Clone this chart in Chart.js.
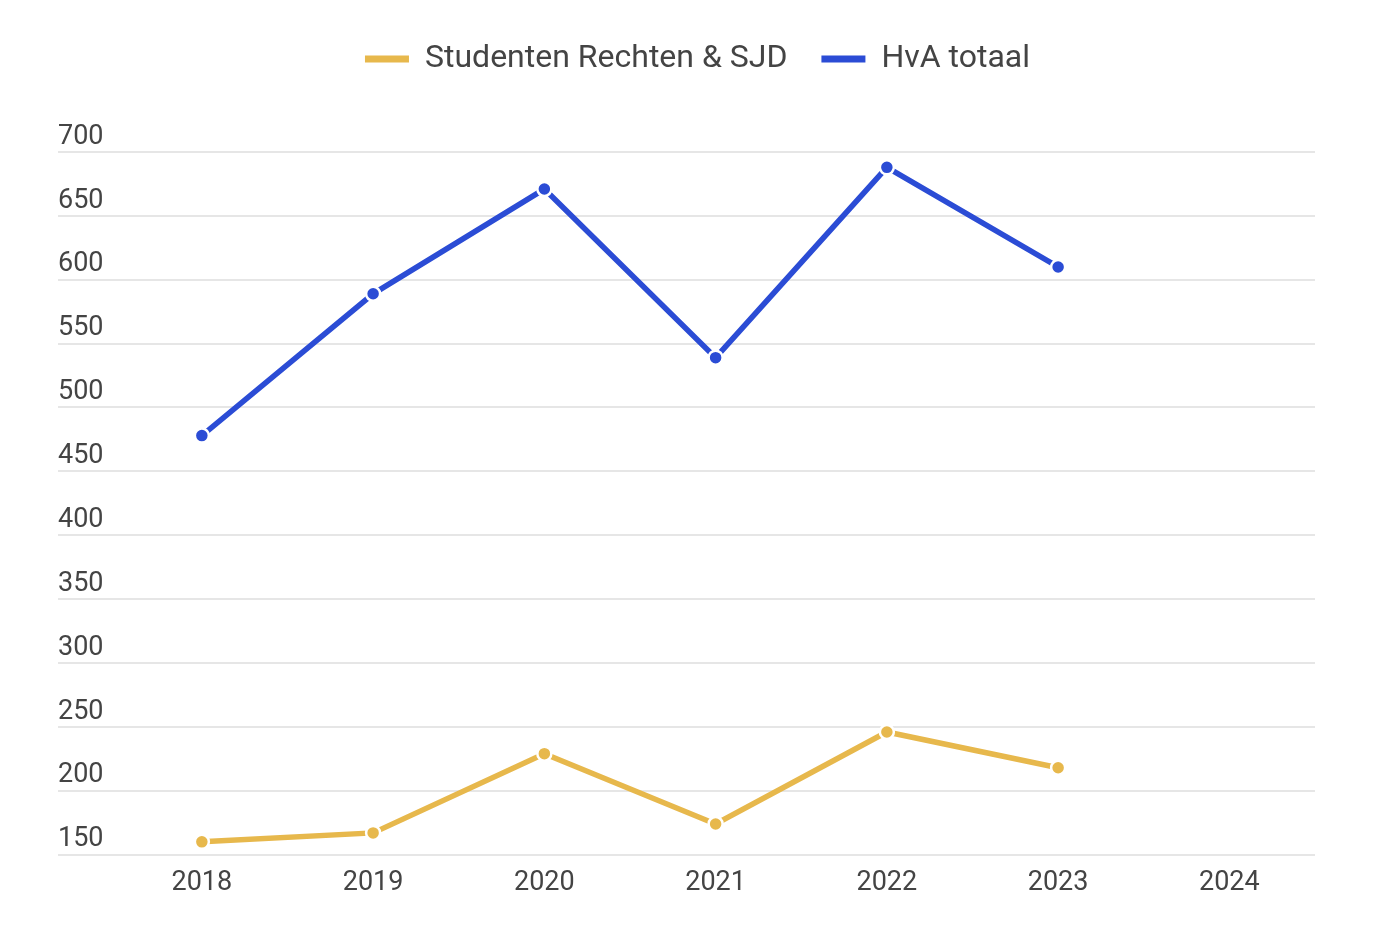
<!DOCTYPE html>
<html>
<head>
<meta charset="utf-8">
<script src="https://cdn.jsdelivr.net/npm/chart.js@4/dist/chart.umd.min.js"></script>
<style>
  html, body { margin: 0; padding: 0; background: #fff; }
  #wrap { width: 1382px; height: 936px; }
</style>
</head>
<body>
<div id="wrap"><canvas id="chart"></canvas></div>
<script>
// data
const years = [2018, 2019, 2020, 2021, 2022, 2023, 2024];
const studentenRechten = [160, 167, 229, 174, 246, 218, null];
const hvaTotaal = [478, 589, 671, 539, 688, 610, null];
const yTicks = [150, 200, 250, 300, 350, 400, 450, 500, 550, 600, 650, 700];

const gold = '#e7b84c';
const blue = '#2b4cd5';
const textColor = '#444444';

const toPoints = vals => years.map((y, i) => ({ x: y, y: vals[i] }));

// extra room between the legend and the plot, and centre the legend on the page
const legendGap = {
  id: 'legendGap',
  beforeInit(chart) {
    const fit = chart.legend.fit;
    chart.legend.fit = function () {
      fit.call(this);
      this.height += 67;
      if (this.lineWidths) this.lineWidths[0] -= 22;
    };
  }
};

const ctx = document.getElementById('chart').getContext('2d');

const chart = new Chart(ctx, {
  type: 'line',
  data: {
    datasets: [
      {
        label: 'Studenten Rechten & SJD',
        data: toPoints(studentenRechten),
        borderColor: gold,
        backgroundColor: gold,
        borderWidth: 5.5,
        pointRadius: 7,
        pointBorderWidth: 2.5,
        pointBorderColor: '#ffffff',
        pointBackgroundColor: gold
      },
      {
        label: 'HvA totaal',
        data: toPoints(hvaTotaal),
        borderColor: blue,
        backgroundColor: blue,
        borderWidth: 5.5,
        pointRadius: 7,
        pointBorderWidth: 2.5,
        pointBorderColor: '#ffffff',
        pointBackgroundColor: blue
      }
    ]
  },
  options: {
    responsive: true,
    maintainAspectRatio: false,
    animation: false,
    layout: {
      padding: { top: 9, left: 58, right: 67, bottom: 25 }
    },
    plugins: {
      legend: {
        position: 'top',
        labels: {
          color: textColor,
          font: { family: 'Roboto', size: 32 },
          boxWidth: 44,
          boxHeight: 7,
          padding: 34,
          generateLabels(c) {
            return Chart.defaults.plugins.legend.labels.generateLabels(c)
              .map(item => ({ ...item, lineWidth: 0 }));
          }
        }
      },
      tooltip: { enabled: false }
    },
    scales: {
      x: {
        type: 'linear',
        min: 2017.16,
        max: 2024.5,
        grid: { display: false, drawTicks: false },
        border: { display: false },
        afterBuildTicks(scale) {
          scale.ticks = years.map(v => ({ value: v }));
        },
        ticks: {
          color: textColor,
          font: { family: 'Roboto', size: 27 },
          padding: 12,
          callback: v => String(v)
        }
      },
      y: {
        min: 150,
        max: 700,
        grid: { color: '#e6e6e6', lineWidth: 2, drawTicks: false },
        border: { display: false },
        afterBuildTicks(scale) {
          scale.ticks = yTicks.map(v => ({ value: v }));
        },
        ticks: {
          mirror: true,
          padding: 0,
          labelOffset: -15,
          color: textColor,
          font: { family: 'Roboto', size: 27 },
          callback: v => String(v)
        }
      }
    }
  },
  plugins: [legendGap]
});
</script>
</body>
</html>
